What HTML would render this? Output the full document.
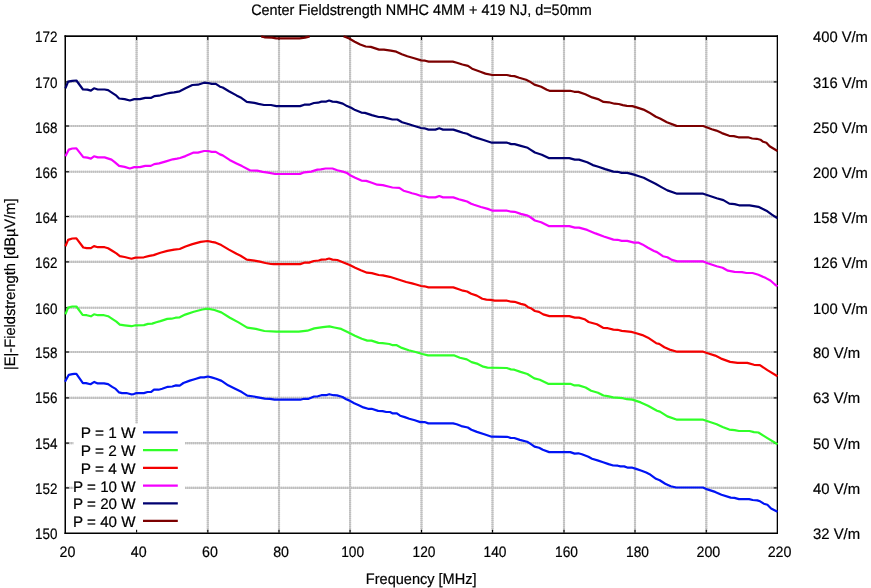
<!DOCTYPE html>
<html><head><meta charset="utf-8"><title>Center Fieldstrength NMHC 4MM + 419 NJ</title>
<style>
html,body{margin:0;padding:0;background:#fff;}
svg{display:block;will-change:transform;}
text{font-family:"Liberation Sans",sans-serif;font-size:15.1px;fill:#000;stroke:#000;stroke-width:0.2px;text-rendering:geometricPrecision;}
</style></head><body>
<svg width="871" height="588" viewBox="0 0 871 588">
<rect x="0" y="0" width="871" height="588" fill="#fff"/>

<g stroke="#cfcfcf" stroke-width="2.1" fill="none"><line x1="136.60" y1="36.0" x2="136.60" y2="533.0"/><line x1="207.80" y1="36.0" x2="207.80" y2="533.0"/><line x1="279.00" y1="36.0" x2="279.00" y2="533.0"/><line x1="350.06" y1="36.0" x2="350.06" y2="533.0"/><line x1="421.50" y1="36.0" x2="421.50" y2="533.0"/><line x1="492.50" y1="36.0" x2="492.50" y2="533.0"/><line x1="564.00" y1="36.0" x2="564.00" y2="533.0"/><line x1="635.00" y1="36.0" x2="635.00" y2="533.0"/><line x1="706.30" y1="36.0" x2="706.30" y2="533.0"/><line x1="65.0" y1="487.90" x2="777.5" y2="487.90"/><line x1="65.0" y1="443.10" x2="777.5" y2="443.10"/><line x1="65.0" y1="397.90" x2="777.5" y2="397.90"/><line x1="65.0" y1="352.00" x2="777.5" y2="352.00"/><line x1="65.0" y1="307.80" x2="777.5" y2="307.80"/><line x1="65.0" y1="261.90" x2="777.5" y2="261.90"/><line x1="65.0" y1="216.50" x2="777.5" y2="216.50"/><line x1="65.0" y1="171.80" x2="777.5" y2="171.80"/><line x1="65.0" y1="126.00" x2="777.5" y2="126.00"/><line x1="65.0" y1="81.90" x2="777.5" y2="81.90"/></g>
<g stroke="#bfbfbf" stroke-width="2.1" stroke-dasharray="1 1" fill="none"><line x1="136.60" y1="36.0" x2="136.60" y2="533.0"/><line x1="207.80" y1="36.0" x2="207.80" y2="533.0"/><line x1="279.00" y1="36.0" x2="279.00" y2="533.0"/><line x1="350.06" y1="36.0" x2="350.06" y2="533.0"/><line x1="421.50" y1="36.0" x2="421.50" y2="533.0"/><line x1="492.50" y1="36.0" x2="492.50" y2="533.0"/><line x1="564.00" y1="36.0" x2="564.00" y2="533.0"/><line x1="635.00" y1="36.0" x2="635.00" y2="533.0"/><line x1="706.30" y1="36.0" x2="706.30" y2="533.0"/><line x1="65.0" y1="487.90" x2="777.5" y2="487.90"/><line x1="65.0" y1="443.10" x2="777.5" y2="443.10"/><line x1="65.0" y1="397.90" x2="777.5" y2="397.90"/><line x1="65.0" y1="352.00" x2="777.5" y2="352.00"/><line x1="65.0" y1="307.80" x2="777.5" y2="307.80"/><line x1="65.0" y1="261.90" x2="777.5" y2="261.90"/><line x1="65.0" y1="216.50" x2="777.5" y2="216.50"/><line x1="65.0" y1="171.80" x2="777.5" y2="171.80"/><line x1="65.0" y1="126.00" x2="777.5" y2="126.00"/><line x1="65.0" y1="81.90" x2="777.5" y2="81.90"/></g>
<rect x="73.5" y="423.5" width="111.5" height="109.5" fill="#fff"/>
<g fill="#000"><rect x="64.5" y="35.3" width="713.5" height="1.7"/><rect x="64.5" y="532.5" width="713.5" height="1.5"/><rect x="64.5" y="35.3" width="1.5" height="498.7"/><rect x="776.7" y="35.3" width="1.3" height="498.7"/></g>
<g stroke="#000" stroke-width="1.1" fill="none">
<line x1="136.60" y1="37" x2="136.60" y2="40"/>
<line x1="136.60" y1="532.5" x2="136.60" y2="529.8"/>
<line x1="207.80" y1="37" x2="207.80" y2="40"/>
<line x1="207.80" y1="532.5" x2="207.80" y2="529.8"/>
<line x1="279.00" y1="37" x2="279.00" y2="40"/>
<line x1="279.00" y1="532.5" x2="279.00" y2="529.8"/>
<line x1="350.06" y1="37" x2="350.06" y2="40"/>
<line x1="350.06" y1="532.5" x2="350.06" y2="529.8"/>
<line x1="421.50" y1="37" x2="421.50" y2="40"/>
<line x1="421.50" y1="532.5" x2="421.50" y2="529.8"/>
<line x1="492.50" y1="37" x2="492.50" y2="40"/>
<line x1="492.50" y1="532.5" x2="492.50" y2="529.8"/>
<line x1="564.00" y1="37" x2="564.00" y2="40"/>
<line x1="564.00" y1="532.5" x2="564.00" y2="529.8"/>
<line x1="635.00" y1="37" x2="635.00" y2="40"/>
<line x1="635.00" y1="532.5" x2="635.00" y2="529.8"/>
<line x1="706.30" y1="37" x2="706.30" y2="40"/>
<line x1="706.30" y1="532.5" x2="706.30" y2="529.8"/>
<line x1="66" y1="487.90" x2="69" y2="487.90"/>
<line x1="776.7" y1="487.90" x2="773.8" y2="487.90"/>
<line x1="66" y1="443.10" x2="69" y2="443.10"/>
<line x1="776.7" y1="443.10" x2="773.8" y2="443.10"/>
<line x1="66" y1="397.90" x2="69" y2="397.90"/>
<line x1="776.7" y1="397.90" x2="773.8" y2="397.90"/>
<line x1="66" y1="352.00" x2="69" y2="352.00"/>
<line x1="776.7" y1="352.00" x2="773.8" y2="352.00"/>
<line x1="66" y1="307.80" x2="69" y2="307.80"/>
<line x1="776.7" y1="307.80" x2="773.8" y2="307.80"/>
<line x1="66" y1="261.90" x2="69" y2="261.90"/>
<line x1="776.7" y1="261.90" x2="773.8" y2="261.90"/>
<line x1="66" y1="216.50" x2="69" y2="216.50"/>
<line x1="776.7" y1="216.50" x2="773.8" y2="216.50"/>
<line x1="66" y1="171.80" x2="69" y2="171.80"/>
<line x1="776.7" y1="171.80" x2="773.8" y2="171.80"/>
<line x1="66" y1="126.00" x2="69" y2="126.00"/>
<line x1="776.7" y1="126.00" x2="773.8" y2="126.00"/>
<line x1="66" y1="81.90" x2="69" y2="81.90"/>
<line x1="776.7" y1="81.90" x2="773.8" y2="81.90"/>
</g>
<g fill="none" stroke-width="2.2" stroke-linejoin="round" stroke-linecap="butt">
<path stroke="#0014f4" d="M65.00,381.70 L68.80,374.80 L72.30,374.10 L74.30,373.80 L76.40,373.80 L82.90,383.10 L86.00,383.10 L90.50,384.20 L94.30,381.90 L97.70,383.40 L104.00,383.30 L108.10,384.10 L112.20,386.90 L115.70,388.90 L119.10,392.40 L121.90,393.10 L126.40,393.00 L131.00,394.30 L133.80,394.10 L136.50,393.00 L143.90,393.10 L147.50,392.00 L151.20,391.90 L154.00,389.70 L158.60,389.70 L162.20,388.80 L167.80,386.80 L172.30,386.50 L176.00,385.40 L179.70,385.60 L183.40,383.00 L189.80,380.60 L195.30,379.00 L200.50,377.40 L204.20,377.40 L207.90,376.50 L211.50,377.40 L216.10,378.80 L221.60,380.90 L228.10,385.30 L233.60,388.00 L238.20,390.30 L241.80,392.10 L247.30,395.60 L253.80,396.50 L259.30,397.60 L264.80,398.60 L270.00,398.80 L274.60,399.70 L279.20,399.70 L300.30,399.70 L304.00,398.80 L308.60,398.80 L314.10,396.50 L317.80,396.30 L321.40,395.20 L326.00,395.20 L329.20,394.20 L333.40,395.20 L337.00,395.40 L342.50,397.00 L346.20,399.30 L349.60,400.60 L354.20,403.30 L358.80,405.20 L363.40,407.40 L368.00,408.80 L371.60,408.80 L378.10,410.90 L382.60,411.10 L386.30,412.00 L390.00,412.00 L392.80,413.40 L396.90,413.40 L400.10,415.70 L404.70,417.10 L409.30,418.70 L414.80,420.30 L420.30,422.10 L424.60,422.00 L428.30,423.40 L453.10,423.40 L456.70,424.30 L461.30,426.10 L467.80,427.50 L471.40,429.80 L476.90,431.90 L484.30,434.20 L491.60,436.70 L506.90,436.80 L510.60,437.90 L514.30,438.00 L519.80,439.90 L527.10,441.70 L529.90,443.40 L534.50,446.60 L539.10,447.80 L542.80,449.80 L549.20,452.10 L570.30,452.10 L574.60,453.60 L578.30,453.30 L581.90,454.20 L588.40,456.80 L592.00,458.80 L597.50,460.40 L603.10,462.20 L608.60,464.10 L613.20,465.50 L617.80,465.70 L620.50,466.40 L624.20,466.40 L627.90,467.70 L632.40,467.70 L636.10,468.90 L641.60,470.80 L646.20,472.60 L649.60,474.20 L656.00,478.80 L659.70,480.20 L665.20,483.70 L670.70,486.20 L676.20,487.50 L702.90,487.50 L707.40,489.40 L709.60,490.10 L715.10,491.90 L721.50,494.70 L730.70,497.60 L734.40,497.90 L739.00,499.10 L749.10,499.10 L752.70,500.00 L757.30,500.40 L760.10,501.30 L763.80,503.70 L767.40,504.80 L771.10,508.50 L777.50,511.70"/>
<path stroke="#30ff28" d="M65.40,314.30 L68.10,307.60 L72.30,306.50 L76.40,306.50 L82.60,314.80 L86.70,315.20 L90.90,316.30 L94.00,314.30 L97.80,315.20 L104.00,315.20 L108.10,316.20 L112.20,318.90 L116.40,321.70 L119.80,324.60 L124.60,325.30 L131.50,326.20 L135.60,325.30 L143.90,325.10 L148.00,323.90 L152.20,323.60 L156.30,322.20 L160.40,321.10 L167.30,318.90 L171.50,318.70 L175.60,317.70 L179.70,317.30 L185.20,314.60 L193.80,311.70 L202.40,309.50 L207.60,308.60 L214.40,310.00 L221.30,312.40 L229.90,317.70 L238.50,322.40 L247.20,327.60 L255.80,328.90 L264.40,331.00 L276.40,331.70 L298.80,331.70 L307.40,330.70 L314.30,328.40 L322.90,327.20 L329.40,326.40 L334.30,327.50 L341.20,328.90 L348.00,332.30 L354.90,335.80 L361.80,338.80 L367.30,340.60 L371.50,340.60 L378.40,342.90 L382.50,343.10 L389.40,344.00 L392.10,345.10 L396.30,345.10 L401.80,347.90 L408.70,350.20 L415.60,352.00 L422.40,354.00 L428.00,355.40 L454.40,355.40 L459.90,357.70 L466.80,359.40 L471.60,362.10 L477.80,363.90 L483.30,366.70 L487.50,367.60 L506.80,368.00 L510.90,369.40 L514.30,369.70 L520.50,371.90 L527.40,374.00 L534.30,378.40 L539.80,379.80 L548.10,383.80 L570.40,383.80 L574.50,385.40 L578.70,385.40 L585.60,387.50 L591.10,390.70 L598.00,392.70 L603.50,395.50 L607.60,396.20 L613.10,397.30 L622.80,398.20 L626.90,399.20 L632.40,399.60 L640.70,402.40 L648.00,405.70 L657.00,410.70 L659.90,411.60 L667.40,416.40 L677.10,419.70 L703.20,419.70 L707.70,421.20 L716.70,424.20 L722.60,426.90 L729.30,429.60 L734.60,430.10 L739.00,431.00 L749.50,431.00 L754.00,432.10 L758.40,432.50 L767.40,438.10 L777.50,444.30"/>
<path stroke="#f40000" d="M65.40,246.30 L68.10,239.90 L72.30,238.50 L76.40,238.30 L83.30,247.50 L86.70,248.20 L90.90,248.20 L94.00,246.10 L97.80,247.20 L104.60,247.20 L108.10,248.20 L112.20,250.70 L116.40,253.40 L119.80,256.20 L124.60,257.00 L131.50,258.70 L135.60,257.60 L143.90,257.30 L149.40,255.90 L153.60,255.10 L160.40,252.70 L167.30,250.90 L174.20,249.60 L179.70,249.00 L185.50,246.50 L192.40,244.10 L200.70,241.90 L207.60,241.00 L211.70,241.90 L215.80,242.70 L221.30,245.10 L228.90,249.60 L236.50,253.80 L240.60,255.70 L246.80,259.60 L254.40,260.70 L259.90,261.60 L265.40,263.00 L270.90,264.00 L273.70,264.20 L300.10,264.10 L304.30,262.70 L309.10,262.60 L313.90,261.00 L318.70,260.50 L321.50,259.60 L326.30,259.30 L329.10,258.50 L332.50,259.60 L337.30,260.00 L342.80,262.30 L349.70,265.10 L355.20,267.80 L360.80,270.30 L367.00,272.70 L371.80,273.10 L378.70,275.00 L382.80,275.40 L389.70,276.80 L395.20,278.50 L400.70,280.20 L406.20,282.00 L412.00,283.40 L416.10,284.50 L421.00,286.00 L424.40,286.30 L428.50,287.40 L453.30,287.40 L458.80,289.30 L463.00,290.70 L467.10,291.50 L471.20,293.80 L476.80,295.60 L482.30,298.70 L486.40,299.60 L490.50,299.80 L494.70,300.70 L507.10,300.70 L511.20,301.70 L514.60,301.80 L520.80,303.90 L525.00,304.90 L528.00,307.20 L530.80,308.20 L534.90,311.00 L539.00,311.90 L543.20,314.40 L549.40,316.10 L569.30,316.10 L574.80,317.60 L579.00,317.60 L584.50,319.20 L588.60,322.00 L596.90,324.30 L603.10,327.80 L607.90,328.20 L613.40,329.60 L617.60,329.80 L621.70,330.90 L624.40,331.20 L631.30,331.90 L635.50,333.00 L642.40,335.10 L648.00,337.70 L656.20,343.20 L659.20,343.90 L664.40,347.20 L669.60,349.60 L677.10,351.70 L703.20,351.70 L707.70,353.20 L715.20,355.60 L721.10,358.60 L730.10,361.90 L737.60,362.90 L747.30,362.90 L754.00,364.80 L759.90,365.10 L767.40,370.10 L777.50,376.30"/>
<path stroke="#f400ff" d="M65.40,156.30 L68.80,149.60 L72.30,148.50 L76.40,148.30 L83.30,157.20 L87.40,157.60 L90.90,158.60 L94.00,156.30 L97.80,157.40 L104.60,157.40 L111.50,159.60 L115.00,162.30 L119.10,165.90 L124.60,166.90 L129.90,168.50 L134.30,167.10 L139.80,167.10 L145.30,165.90 L150.80,165.90 L154.20,164.10 L159.10,163.40 L166.00,161.40 L172.80,159.30 L177.00,158.60 L180.00,158.00 L185.50,156.10 L193.10,152.70 L197.90,152.60 L204.10,151.00 L208.20,151.00 L211.70,151.90 L215.80,151.90 L220.00,154.40 L222.70,155.40 L229.60,159.90 L236.50,163.40 L242.00,166.10 L250.30,170.50 L257.20,170.70 L262.70,171.80 L268.20,172.60 L275.10,174.00 L300.10,173.90 L304.30,172.30 L311.20,171.60 L317.40,169.60 L320.80,169.30 L325.60,168.50 L332.50,168.50 L337.30,170.30 L342.80,171.60 L347.00,173.00 L351.10,175.80 L355.20,177.80 L361.40,180.60 L366.30,180.90 L371.80,182.70 L377.30,184.70 L382.80,185.10 L388.30,186.50 L392.40,187.50 L399.30,187.80 L403.50,190.70 L409.00,192.30 L412.00,193.20 L416.10,194.20 L421.00,196.00 L424.40,196.30 L428.50,197.40 L435.40,197.40 L439.30,196.00 L443.00,197.40 L453.30,197.40 L458.80,199.30 L463.00,200.40 L467.10,201.50 L471.20,203.80 L474.00,204.80 L480.90,207.00 L487.80,208.90 L492.60,210.70 L507.10,210.70 L511.20,211.70 L514.60,211.80 L520.80,213.90 L527.70,215.60 L530.80,217.50 L534.90,220.50 L541.10,222.30 L548.70,226.10 L569.30,226.10 L574.80,227.60 L579.00,227.60 L587.20,229.90 L595.50,233.40 L603.80,236.50 L613.40,239.60 L617.60,239.80 L621.70,240.90 L627.20,240.90 L634.10,242.60 L638.20,242.60 L642.40,244.40 L648.00,247.70 L654.00,251.00 L657.00,252.10 L662.90,256.20 L667.40,257.20 L671.90,259.90 L677.10,261.40 L703.20,261.40 L707.70,263.20 L716.70,266.20 L722.60,267.70 L727.90,270.70 L734.60,271.90 L742.00,272.10 L746.50,273.00 L752.50,273.00 L758.40,274.80 L765.90,278.10 L770.40,280.50 L774.90,284.50 L777.50,286.40"/>
<path stroke="#000070" d="M65.40,88.30 L68.10,81.60 L72.30,80.80 L76.40,80.50 L83.00,89.50 L87.40,89.60 L90.90,90.60 L94.00,88.30 L97.80,89.50 L104.60,89.50 L108.10,90.20 L112.20,92.90 L116.40,95.70 L119.10,98.50 L124.60,99.10 L129.90,100.50 L134.30,99.10 L139.80,99.10 L145.30,97.90 L150.80,97.90 L154.20,96.20 L159.10,95.70 L166.00,93.80 L170.10,92.90 L174.20,92.40 L179.70,91.30 L185.50,88.20 L192.40,85.00 L197.90,84.70 L204.10,82.70 L208.20,83.00 L211.70,83.90 L215.80,83.90 L220.00,86.70 L222.70,87.50 L228.90,91.20 L236.50,95.40 L240.60,97.40 L246.80,101.80 L254.40,102.90 L258.50,103.90 L264.00,105.00 L270.90,105.00 L276.40,106.10 L300.10,106.10 L304.30,104.70 L309.10,104.70 L313.90,103.00 L318.00,102.70 L321.50,101.60 L326.30,101.60 L329.10,100.50 L332.50,101.60 L336.60,101.90 L342.80,103.60 L347.00,106.10 L351.10,107.80 L355.20,110.10 L361.40,112.60 L364.90,112.90 L371.80,115.10 L378.70,117.00 L382.80,117.10 L386.90,118.10 L392.40,119.50 L397.30,119.50 L402.10,122.20 L409.00,124.30 L412.00,125.20 L416.10,126.50 L421.00,128.00 L424.40,128.30 L428.50,129.60 L435.40,129.60 L439.30,128.30 L443.00,129.60 L453.30,129.60 L458.80,131.40 L463.00,132.70 L467.10,133.80 L471.90,136.30 L476.80,137.90 L483.60,140.00 L491.90,142.70 L507.10,142.70 L511.20,144.10 L514.60,144.10 L520.80,145.90 L527.70,147.80 L530.80,149.80 L534.90,152.50 L541.80,154.70 L548.70,158.10 L569.30,158.10 L574.80,159.60 L579.00,159.60 L587.20,162.20 L592.80,165.10 L598.30,166.70 L605.20,169.10 L613.40,171.60 L617.60,171.80 L621.70,172.90 L627.20,172.90 L634.10,174.60 L638.20,176.00 L643.70,177.80 L648.00,179.90 L655.50,183.70 L661.40,187.10 L667.40,190.40 L677.10,193.70 L703.20,193.70 L707.70,195.20 L716.70,198.20 L723.40,200.10 L729.30,203.60 L734.60,204.10 L739.00,205.30 L749.50,205.30 L754.00,206.10 L758.40,206.80 L762.90,209.10 L767.40,211.30 L771.90,214.60 L776.40,217.60 L777.50,217.90"/>
<path stroke="#7c0000" d="M261.27,36.40 L262.00,36.60 L264.50,37.30 L272.00,37.60 L276.20,38.30 L299.60,38.30 L305.10,37.60 L309.00,36.60 L309.55,36.40 M343.62,36.40 L345.50,37.00 L349.20,38.50 L354.70,41.70 L360.20,44.50 L365.70,46.50 L370.80,46.90 L379.10,49.60 L383.90,49.60 L390.80,50.70 L396.30,51.70 L401.80,54.20 L407.30,56.30 L414.20,58.20 L421.10,60.40 L425.20,60.70 L428.70,61.60 L452.80,61.60 L456.90,62.70 L462.40,64.50 L468.00,65.90 L472.10,68.70 L480.40,71.70 L485.40,73.60 L492.30,75.00 L506.80,75.00 L510.90,75.90 L514.40,76.10 L519.20,77.70 L526.10,79.80 L529.50,81.40 L534.40,84.60 L541.20,86.70 L546.80,89.70 L549.50,90.80 L570.20,90.80 L574.30,91.80 L578.40,91.90 L585.30,94.20 L592.20,97.40 L598.00,99.10 L603.50,101.90 L609.00,102.30 L614.50,103.70 L618.70,104.00 L622.80,105.10 L626.90,105.80 L632.40,106.10 L636.60,107.40 L643.50,109.60 L649.00,112.40 L655.90,116.80 L660.00,118.50 L666.90,122.30 L676.50,125.90 L703.20,126.00 L707.20,127.50 L711.80,129.20 L716.40,130.60 L721.90,133.10 L729.20,135.80 L733.80,136.10 L738.40,137.30 L748.00,137.30 L752.20,138.50 L756.80,138.80 L760.40,139.70 L763.20,141.80 L766.40,142.80 L769.60,146.20 L777.50,151.00"/>
</g>
<text x="135.6" y="437.70" text-anchor="end" textLength="54.87" lengthAdjust="spacingAndGlyphs">P = 1 W</text>
<line x1="143" y1="432.3" x2="177.8" y2="432.3" stroke="#0014f4" stroke-width="2.2"/>
<text x="135.6" y="455.70" text-anchor="end" textLength="54.87" lengthAdjust="spacingAndGlyphs">P = 2 W</text>
<line x1="143" y1="450.1" x2="177.8" y2="450.1" stroke="#30ff28" stroke-width="2.2"/>
<text x="135.6" y="474.10" text-anchor="end" textLength="54.87" lengthAdjust="spacingAndGlyphs">P = 4 W</text>
<line x1="143" y1="467.9" x2="177.8" y2="467.9" stroke="#f40000" stroke-width="2.2"/>
<text x="135.6" y="492.00" text-anchor="end" textLength="62.56" lengthAdjust="spacingAndGlyphs">P = 10 W</text>
<line x1="143" y1="485.6" x2="177.8" y2="485.6" stroke="#f400ff" stroke-width="2.2"/>
<text x="135.6" y="508.90" text-anchor="end" textLength="62.56" lengthAdjust="spacingAndGlyphs">P = 20 W</text>
<line x1="143" y1="503.4" x2="177.8" y2="503.4" stroke="#000070" stroke-width="2.2"/>
<text x="135.6" y="527.40" text-anchor="end" textLength="62.56" lengthAdjust="spacingAndGlyphs">P = 40 W</text>
<line x1="143" y1="520.9" x2="177.8" y2="520.9" stroke="#7c0000" stroke-width="2.2"/>
<text x="421.40" y="14.60" text-anchor="middle" textLength="340.55" lengthAdjust="spacingAndGlyphs">Center Fieldstrength NMHC 4MM + 419 NJ, d=50mm</text>
<text x="57.40" y="538.80" text-anchor="end" textLength="22.44" lengthAdjust="spacingAndGlyphs">150</text>
<text x="57.40" y="493.80" text-anchor="end" textLength="22.44" lengthAdjust="spacingAndGlyphs">152</text>
<text x="57.40" y="448.60" text-anchor="end" textLength="22.44" lengthAdjust="spacingAndGlyphs">154</text>
<text x="57.40" y="403.40" text-anchor="end" textLength="22.44" lengthAdjust="spacingAndGlyphs">156</text>
<text x="57.40" y="357.90" text-anchor="end" textLength="22.44" lengthAdjust="spacingAndGlyphs">158</text>
<text x="57.40" y="313.60" text-anchor="end" textLength="22.44" lengthAdjust="spacingAndGlyphs">160</text>
<text x="57.40" y="267.80" text-anchor="end" textLength="22.44" lengthAdjust="spacingAndGlyphs">162</text>
<text x="57.40" y="223.00" text-anchor="end" textLength="22.44" lengthAdjust="spacingAndGlyphs">164</text>
<text x="57.40" y="177.80" text-anchor="end" textLength="22.44" lengthAdjust="spacingAndGlyphs">166</text>
<text x="57.40" y="132.90" text-anchor="end" textLength="22.44" lengthAdjust="spacingAndGlyphs">168</text>
<text x="57.40" y="87.70" text-anchor="end" textLength="22.44" lengthAdjust="spacingAndGlyphs">170</text>
<text x="57.40" y="41.90" text-anchor="end" textLength="22.44" lengthAdjust="spacingAndGlyphs">172</text>
<text x="67.50" y="556.60" text-anchor="middle" textLength="15.84" lengthAdjust="spacingAndGlyphs">20</text>
<text x="138.70" y="556.60" text-anchor="middle" textLength="15.84" lengthAdjust="spacingAndGlyphs">40</text>
<text x="209.90" y="556.60" text-anchor="middle" textLength="15.84" lengthAdjust="spacingAndGlyphs">60</text>
<text x="281.10" y="556.60" text-anchor="middle" textLength="15.84" lengthAdjust="spacingAndGlyphs">80</text>
<text x="352.61" y="556.60" text-anchor="middle" textLength="22.94" lengthAdjust="spacingAndGlyphs">100</text>
<text x="424.05" y="556.60" text-anchor="middle" textLength="22.94" lengthAdjust="spacingAndGlyphs">120</text>
<text x="495.05" y="556.60" text-anchor="middle" textLength="22.94" lengthAdjust="spacingAndGlyphs">140</text>
<text x="566.55" y="556.60" text-anchor="middle" textLength="22.94" lengthAdjust="spacingAndGlyphs">160</text>
<text x="637.55" y="556.60" text-anchor="middle" textLength="22.94" lengthAdjust="spacingAndGlyphs">180</text>
<text x="708.40" y="556.60" text-anchor="middle" textLength="23.84" lengthAdjust="spacingAndGlyphs">200</text>
<text x="779.60" y="556.60" text-anchor="middle" textLength="23.84" lengthAdjust="spacingAndGlyphs">220</text>
<text x="813.00" y="41.90" textLength="54.91" lengthAdjust="spacingAndGlyphs">400 V/m</text>
<text x="813.00" y="87.70" textLength="54.91" lengthAdjust="spacingAndGlyphs">316 V/m</text>
<text x="813.00" y="132.90" textLength="54.91" lengthAdjust="spacingAndGlyphs">250 V/m</text>
<text x="813.00" y="177.80" textLength="54.91" lengthAdjust="spacingAndGlyphs">200 V/m</text>
<text x="813.00" y="223.00" textLength="54.91" lengthAdjust="spacingAndGlyphs">158 V/m</text>
<text x="813.00" y="267.80" textLength="54.91" lengthAdjust="spacingAndGlyphs">126 V/m</text>
<text x="813.00" y="313.60" textLength="54.91" lengthAdjust="spacingAndGlyphs">100 V/m</text>
<text x="813.00" y="357.90" textLength="47.16" lengthAdjust="spacingAndGlyphs">80 V/m</text>
<text x="813.00" y="403.40" textLength="47.16" lengthAdjust="spacingAndGlyphs">63 V/m</text>
<text x="813.00" y="448.60" textLength="47.16" lengthAdjust="spacingAndGlyphs">50 V/m</text>
<text x="813.00" y="493.80" textLength="47.16" lengthAdjust="spacingAndGlyphs">40 V/m</text>
<text x="813.00" y="538.80" textLength="47.16" lengthAdjust="spacingAndGlyphs">32 V/m</text>
<text x="421.20" y="583.60" text-anchor="middle" textLength="110.72" lengthAdjust="spacingAndGlyphs">Frequency [MHz]</text>
<text transform="translate(15.2,284.3) rotate(-90)" text-anchor="middle" textLength="171.55" lengthAdjust="spacingAndGlyphs">|E|-Fieldstrength [dBµV/m]</text>
</svg>
</body></html>
